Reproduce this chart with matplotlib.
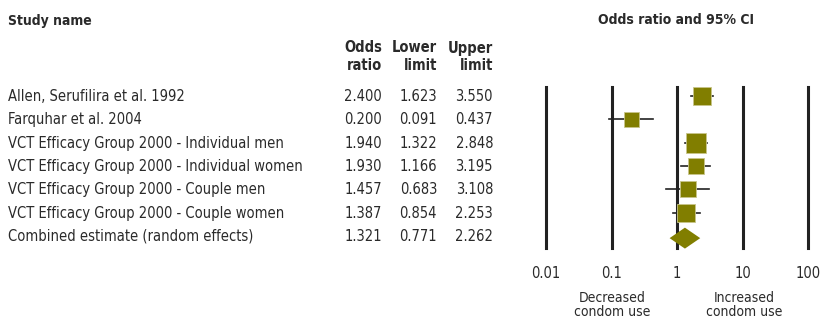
import numpy as np
import matplotlib
matplotlib.use("Agg")
import matplotlib.pyplot as plt

# Forest plot data
studies = [
    "Allen, Serufilira et al. 1992",
    "Farquhar et al. 2004",
    "VCT Efficacy Group 2000 - Individual men",
    "VCT Efficacy Group 2000 - Individual women",
    "VCT Efficacy Group 2000 - Couple men",
    "VCT Efficacy Group 2000 - Couple women",
    "Combined estimate (random effects)",
]
odds_ratio = [2.400, 0.200, 1.940, 1.930, 1.457, 1.387, 1.321]
lower_limit = [1.623, 0.091, 1.322, 1.166, 0.683, 0.854, 0.771]
upper_limit = [3.550, 0.437, 2.848, 3.195, 3.108, 2.253, 2.262]
# marker sizes (study weight)
weights = [12.8, 10.8, 14.8, 11.5, 12.2, 13.2]
ticks = [0.01, 0.1, 1, 10, 100]
tick_labels = ["0.01", "0.1", "1", "10", "100"]

OLIVE = "#817e00"
W, H = 822, 319
plt.rcParams["font.family"] = ["DejaVu Sans"]
plt.rcParams["font.stretch"] = "condensed"

fig = plt.figure(figsize=(W / 100, H / 100), dpi=100)


def fx(px):
    return px / W


def fy(py):
    return 1 - py / H


# rows: first row at 96 px, 23.3 px apart
ROW0, ROW_STEP = 96, 23.3
TOP, BOTTOM = 87, 248

# forest panel
ax = fig.add_axes([fx(546), fy(BOTTOM), fx(808 - 546), (BOTTOM - TOP) / H])
ax.set_xscale("log")
ax.set_xlim(0.01, 100)
ax.set_ylim((BOTTOM - ROW0) / ROW_STEP, (TOP - ROW0) / ROW_STEP)
for t in ticks:
    ax.axvline(t, color="#222222", linewidth=2.2, zorder=1, clip_on=False)

n_study = len(studies) - 1
for i in range(n_study):
    ax.plot([lower_limit[i], upper_limit[i]], [i, i], color="#222222",
            linewidth=1.2, zorder=2)
    ax.plot(odds_ratio[i], i, marker="s", markersize=weights[i],
            color=OLIVE, markeredgecolor="#c8c58a", markeredgewidth=0.6,
            zorder=3)

# combined diamond
k = n_study
lo, mid, hi = lower_limit[k], odds_ratio[k], upper_limit[k]
ax.fill([lo, mid, hi, mid], [k + 0.1, k - 0.35, k + 0.1, k + 0.55],
        color=OLIVE, zorder=3, linewidth=0, clip_on=False)
ax.axis("off")

FS = 10.5
TXT = "#2a2a2a"

# tick labels under the panel
for t, lab in zip(ticks, tick_labels):
    x = (np.log10(t) + 2) / 4
    fig.text(fx(546) + x * fx(808 - 546), fy(273), lab, ha="center",
             va="center", fontsize=FS, color=TXT)

fig.text(fx(612), fy(305), "Decreased\ncondom use", ha="center", va="center",
         fontsize=FS - 0.5, color=TXT, linespacing=1.0)
fig.text(fx(744), fy(305), "Increased\ncondom use", ha="center", va="center",
         fontsize=FS - 0.5, color=TXT, linespacing=1.0)

# headers
fig.text(fx(8), fy(20.5), "Study name", ha="left", va="center",
         fontsize=FS - 0.5, fontweight="bold", color=TXT)
fig.text(fx(676), fy(20.5), "Odds ratio and 95% CI", ha="center",
         va="center", fontsize=FS - 0.5, fontweight="bold", color=TXT)
col_x = [382, 437, 493]
col_head = ["Odds\nratio", "Lower\nlimit", "Upper\nlimit"]
for x, h in zip(col_x, col_head):
    fig.text(fx(x), fy(57), h, ha="right", va="center", fontsize=FS,
             fontweight="bold", color=TXT, linespacing=1.25)

# table rows
for i, name in enumerate(studies):
    y = fy(ROW0 + 0.6 + ROW_STEP * i)
    fig.text(fx(8), y, name, ha="left", va="center", fontsize=FS, color=TXT)
    vals = [odds_ratio[i], lower_limit[i], upper_limit[i]]
    for x, v in zip(col_x, vals):
        fig.text(fx(x), y, f"{v:.3f}", ha="right", va="center",
                 fontsize=FS, color=TXT)

fig.savefig("out.png", dpi=100)
